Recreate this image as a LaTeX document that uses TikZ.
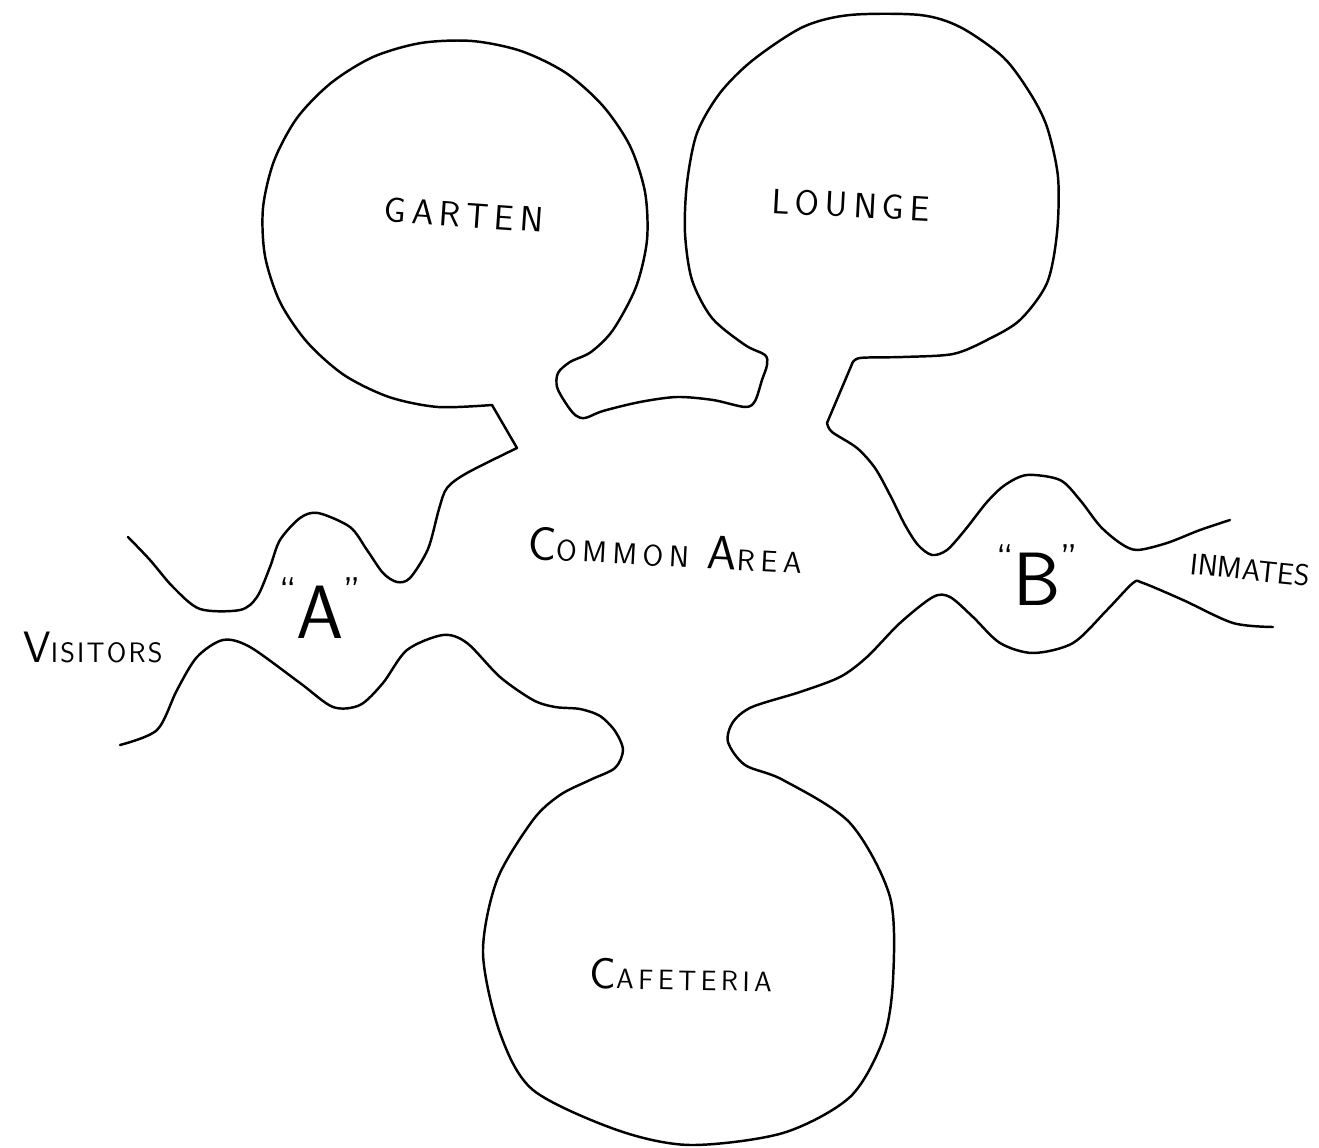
\documentclass[tikz,border=0pt]{standalone}
\usepackage{fontspec}
% hand-lettered labels: wide spacing, big first letters
\newfontfamily\handfont[LetterSpace=16]{Latin Modern Sans}
\newfontfamily\widehand[LetterSpace=19]{Latin Modern Sans}
\newfontfamily\narrowhand[LetterSpace=8]{Latin Modern Sans}
\newcommand\capbig[1]{{\fontsize{25}{25}\selectfont #1}}
\newcommand\capsmall[1]{{\fontsize{16}{16}\selectfont #1}}
\newcommand\qmark[1]{\raisebox{19pt}{\fontsize{22}{22}\selectfont #1}}
\begin{document}
\begin{tikzpicture}[x=0.02cm,y=-0.02cm,
  wall/.style={line width=1.4pt, line cap=round, line join=round},
  lbl/.style={inner sep=0pt, font=\handfont\fontsize{20}{20}\selectfont},
  gate/.style={inner sep=0pt, font=\sffamily\fontsize{43}{43}\selectfont}]
\useasboundingbox (0,0) rectangle (1319,1148);

% upper wall: corridor A, garden, the stub between the rooms, lounge, corridor B
\draw[wall]
  plot[smooth] coordinates {(128,537) (150,560) (173,587) (200,609) (240,610) (257,597)
    (270,567) (280,540) (300,518) (318,513) (350,527) (367,550) (383,573) (397,582)
    (410,578) (428,549) (439,509) (447,488) (467,473) (517,448)}
  -- (492,405)
  -- plot[smooth] coordinates {(492,405) (438,407) (389,397) (344,375) (307,342)
    (280,302) (265,256) (263,208) (274,161) (297,118) (331,83) (373,57) (421,43)
    (472,41) (521,51) (566,73) (603,106) (630,146) (645,192) (647,240) (636,287)
    (613,330) (591,352) (570,362) (558,373) (557,387) (565,402) (575,415) (585,418) (603,411)
    (640,402) (677,397) (713,400) (745,407) (755,401) (762,380) (767,365) (765,355)
    (745,345) (712,318) (692,280) (685,233) (687,183) (697,133) (720,93) (753,60)
    (803,27) (850,15) (920,15) (960,27) (1003,57) (1030,93) (1047,127) (1058,177)
    (1057,233) (1047,283) (1020,320) (987,340) (953,354) (903,357) (860,358) (852,364)}
  -- (827,423)
  -- plot[smooth] coordinates {(827,423) (832,432) (857,448) (875,468) (890,495) (905,525)
    (918,545) (932,555) (947,550) (965,530) (987,502) (1005,485) (1027,475) (1060,480)
    (1080,500) (1100,526) (1120,543) (1137,550) (1167,543) (1200,530) (1230,520)};

% lower wall: corridor A, cafeteria, corridor B
\draw[wall]
  plot[smooth] coordinates {(120,745) (157,730) (177,690) (197,657) (223,640) (250,647)
    (300,683) (333,707) (360,705) (383,683) (407,650) (443,635) (467,643) (500,677)
    (533,700) (555,707) (580,709) (600,716) (615,731) (623,750) (615,768) (590,780)
    (560,795) (533,820) (497,880) (483,953) (500,1033) (533,1090) (617,1130) (690,1145)
    (783,1133) (850,1097) (883,1040) (893,980) (890,897) (850,823) (783,780) (745,765)
    (728,742) (733,722) (752,707) (800,692) (840,677) (867,657) (900,623) (933,597)
    (950,597) (973,617) (1000,643) (1033,653) (1073,643) (1107,610) (1133,583) (1143,583)
    (1183,600) (1233,623) (1273,627)};

% room and corridor labels
\node[lbl, rotate=-4] (garden) at (464,215) {GARTEN};
\node[lbl, rotate=-3] (lounge) at (851,205) {LOUNGE};
\node[lbl, rotate=-3, font=\widehand\fontsize{21}{21}\selectfont] (common) at (665,550)
  {{\fontsize{27}{27}\selectfont C}{\fontsize{17}{17}\selectfont OMMON} {\fontsize{27}{27}\selectfont A}{\fontsize{17}{17}\selectfont REA}};
\node[lbl, rotate=-1] (cafe) at (681,975) {\capbig{C}\capsmall{AFETERIA}};
\node[lbl, font=\narrowhand\fontsize{20}{20}\selectfont] (visitors) at (93,647) {\capbig{V}\capsmall{ISITORS}};
\node[lbl, rotate=-6, font=\sffamily\fontsize{17}{17}\selectfont] (inmates) at (1250,570) {INMATES};
\node[gate] (gateA) at (320,608) {\qmark{``}A\qmark{''}};
\node[gate] (gateB) at (1037,575) {\qmark{``}B\qmark{''}};
\end{tikzpicture}
\end{document}
